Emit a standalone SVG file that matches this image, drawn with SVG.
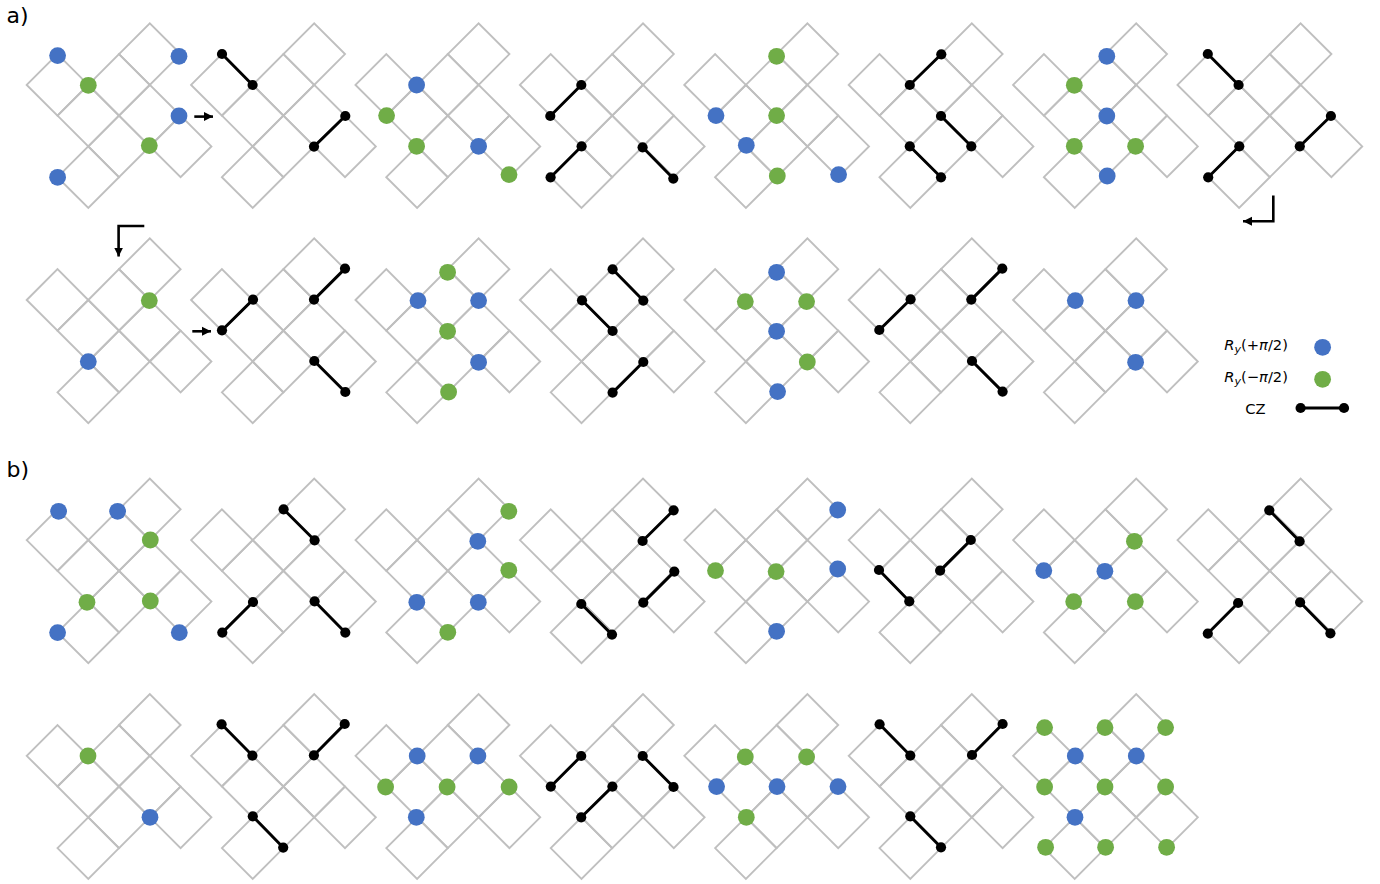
<svg xmlns="http://www.w3.org/2000/svg" width="1380" height="884" viewBox="0 0 1380 884">
<style>
text{font-family:"DejaVu Sans",sans-serif;fill:#000}
.h{font-size:22px}
.l{font-size:14.7px}
.m{font-style:italic}
.s{font-size:11px;font-style:italic}
.c{fill:none;stroke:#bfbfbf;stroke-width:1.9;stroke-linejoin:miter}
.b{fill:#4472c4}
.g{fill:#70ad47}
.q{fill:#000}
.z{stroke:#000;stroke-width:2.9;fill:none}
.a{stroke:#000;stroke-width:2.6;fill:none;marker-end:url(#ah)}
</style>
<defs>
<marker id="ah" markerUnits="userSpaceOnUse" markerWidth="10" markerHeight="10" refX="9" refY="5" orient="auto"><path d="M0 0.5L9 5L0 9.5Z" fill="#000"/></marker>
<g id="lat" class="c">
<path d="M92.3 30.8L123.1 0L153.9 30.8L123.1 61.6Z"/>
<path d="M0 61.6L30.8 30.8L61.6 61.6L30.8 92.3Z"/>
<path d="M61.6 61.6L92.3 30.8L123.1 61.6L92.3 92.3Z"/>
<path d="M30.8 92.3L61.6 61.6L92.3 92.3L61.6 123.1Z"/>
<path d="M92.3 92.3L123.1 61.6L153.9 92.3L123.1 123.1Z"/>
<path d="M61.6 123.1L92.3 92.3L123.1 123.1L92.3 153.9Z"/>
<path d="M123.1 123.1L153.9 92.3L184.7 123.1L153.9 153.9Z"/>
<path d="M30.8 153.9L61.6 123.1L92.3 153.9L61.6 184.7Z"/>
</g>
</defs>
<rect width="1380" height="884" fill="#fff"/>
<text class="h" x="6.5" y="22.5">a)</text>
<text class="h" x="6.5" y="476.5">b)</text>

<g id="lattices">
<use href="#lat" x="26.7" y="23.3"/><use href="#lat" x="191.1" y="23.3"/><use href="#lat" x="355.5" y="23.3"/><use href="#lat" x="519.9" y="23.3"/><use href="#lat" x="684.3" y="23.3"/><use href="#lat" x="848.7" y="23.3"/><use href="#lat" x="1013.1" y="23.3"/><use href="#lat" x="1177.5" y="23.3"/>
<use href="#lat" x="26.7" y="238.4"/><use href="#lat" x="191.1" y="238.4"/><use href="#lat" x="355.5" y="238.4"/><use href="#lat" x="519.9" y="238.4"/><use href="#lat" x="684.3" y="238.4"/><use href="#lat" x="848.7" y="238.4"/><use href="#lat" x="1013.1" y="238.4"/>
<use href="#lat" x="26.7" y="478.5"/><use href="#lat" x="191.1" y="478.5"/><use href="#lat" x="355.5" y="478.5"/><use href="#lat" x="519.9" y="478.5"/><use href="#lat" x="684.3" y="478.5"/><use href="#lat" x="848.7" y="478.5"/><use href="#lat" x="1013.1" y="478.5"/><use href="#lat" x="1177.5" y="478.5"/>
<use href="#lat" x="26.7" y="694.2"/><use href="#lat" x="191.1" y="694.2"/><use href="#lat" x="355.5" y="694.2"/><use href="#lat" x="519.9" y="694.2"/><use href="#lat" x="684.3" y="694.2"/><use href="#lat" x="848.7" y="694.2"/><use href="#lat" x="1013.1" y="694.2"/>
</g>

<g transform="translate(0.3 0.3)">
<g id="connectors">
<g id="arrows">
<path class="a" d="M194 116.3H212.7"/>
<path class="a" d="M192 331H210.7"/>
<path class="a" d="M1273 195.3V221H1242.7"/>
<path class="a" d="M144 225.7H118.3V256.3"/>
</g>
<g id="cz-lines">
<path class="z" d="M221.7 53.7L252.3 84.7M313.7 146.3L345 115.7"/>
<path class="z" d="M581 84.7L550 115.7M581.3 146L550.3 177M642.3 147L673 178.3"/>
<path class="z" d="M941 54L909.5 84.7M940.7 115.7L971 146M909.5 146L940.7 177"/>
<path class="z" d="M1207.5 53.7L1238.3 84.7M1330.6 115.7L1299.5 146M1239 146L1207.9 177"/>
<path class="z" d="M221.7 330L252.7 299.3M313.7 299.3L344.7 268.3M314 360.7L345 391.7"/>
<path class="z" d="M612.3 269L643 300.3M581.7 300L612.3 330.7M643 361.7L612.3 392.3"/>
<path class="z" d="M879 329.7L910.3 299M971 299.3L1002 268.3M971.7 360.7L1002.3 391.3"/>
<path class="z" d="M283.3 509L314.3 540M252.7 601.7L222 632.3M314.3 601L345 632.3"/>
<path class="z" d="M673.3 510L642.3 540.7M674 571.3L643 602.3M581 603.7L611.7 634.3"/>
<path class="z" d="M970.5 539.7L939.8 570.3M878.7 569.7L909 601"/>
<path class="z" d="M1269 510L1299.3 541M1237.8 602.7L1207.5 633.3M1299.8 602L1330.1 633"/>
<path class="z" d="M221.3 724L252.1 755.3M313.6 755L344.4 723.7M252.5 816L282.9 847.3"/>
<path class="z" d="M580.9 755.7L550.5 786.3M642.4 755.7L673.2 786.7M612.1 786.3L580.9 817"/>
<path class="z" d="M879.3 724L910 755.3M971.7 754.7L1002.3 723.7M910 816L940.7 847"/>
<path class="z" d="M1300.3 407.7H1343.7"/>
</g>
</g>

<g id="a1-1"><circle class="b" cx="57.3" cy="55.3" r="8.4"/><circle class="b" cx="178.7" cy="56" r="8.4"/><circle class="b" cx="178.7" cy="115.7" r="8.4"/><circle class="b" cx="57.3" cy="177" r="8.4"/><circle class="g" cx="88" cy="85" r="8.4"/><circle class="g" cx="149" cy="145.3" r="8.4"/></g>
<g id="a1-2"><circle class="q" cx="221.7" cy="53.7" r="5.1"/><circle class="q" cx="252.3" cy="84.7" r="5.1"/><circle class="q" cx="313.7" cy="146.3" r="5.1"/><circle class="q" cx="345" cy="115.7" r="5.1"/></g>
<g id="a1-3"><circle class="b" cx="416.3" cy="84.7" r="8.4"/><circle class="g" cx="386.3" cy="115.3" r="8.4"/><circle class="g" cx="416.3" cy="146" r="8.4"/><circle class="b" cx="478.3" cy="146" r="8.4"/><circle class="g" cx="508.7" cy="174.3" r="8.4"/></g>
<g id="a1-4"><circle class="q" cx="581" cy="84.7" r="5.1"/><circle class="q" cx="550" cy="115.7" r="5.1"/><circle class="q" cx="581.3" cy="146" r="5.1"/><circle class="q" cx="550.3" cy="177" r="5.1"/><circle class="q" cx="642.3" cy="147" r="5.1"/><circle class="q" cx="673" cy="178.3" r="5.1"/></g>
<g id="a1-5"><circle class="g" cx="776.3" cy="56" r="8.4"/><circle class="b" cx="715.7" cy="115.3" r="8.4"/><circle class="g" cx="776.3" cy="115.3" r="8.4"/><circle class="b" cx="746" cy="145" r="8.4"/><circle class="g" cx="777" cy="175.7" r="8.4"/><circle class="b" cx="838.3" cy="174.3" r="8.4"/></g>
<g id="a1-6"><circle class="q" cx="941" cy="54" r="5.1"/><circle class="q" cx="909.5" cy="84.7" r="5.1"/><circle class="q" cx="940.7" cy="115.7" r="5.1"/><circle class="q" cx="971" cy="146" r="5.1"/><circle class="q" cx="909.5" cy="146" r="5.1"/><circle class="q" cx="940.7" cy="177" r="5.1"/></g>
<g id="a1-7"><circle class="b" cx="1106.5" cy="56" r="8.4"/><circle class="g" cx="1074" cy="85" r="8.4"/><circle class="b" cx="1106.5" cy="115.7" r="8.4"/><circle class="g" cx="1074" cy="146" r="8.4"/><circle class="g" cx="1135.3" cy="146" r="8.4"/><circle class="b" cx="1106.9" cy="175.7" r="8.4"/></g>
<g id="a1-8"><circle class="q" cx="1207.5" cy="53.7" r="5.1"/><circle class="q" cx="1238.3" cy="84.7" r="5.1"/><circle class="q" cx="1330.6" cy="115.7" r="5.1"/><circle class="q" cx="1299.5" cy="146" r="5.1"/><circle class="q" cx="1239" cy="146" r="5.1"/><circle class="q" cx="1207.9" cy="177" r="5.1"/></g>

<g id="a2-1"><circle class="g" cx="149" cy="300.3" r="8.4"/><circle class="b" cx="88" cy="361.3" r="8.4"/></g>
<g id="a2-2"><circle class="q" cx="221.7" cy="330" r="5.1"/><circle class="q" cx="252.7" cy="299.3" r="5.1"/><circle class="q" cx="313.7" cy="299.3" r="5.1"/><circle class="q" cx="344.7" cy="268.3" r="5.1"/><circle class="q" cx="314" cy="360.7" r="5.1"/><circle class="q" cx="345" cy="391.7" r="5.1"/></g>
<g id="a2-3"><circle class="g" cx="447.3" cy="272" r="8.4"/><circle class="b" cx="417.7" cy="300.3" r="8.4"/><circle class="b" cx="478.3" cy="300.3" r="8.4"/><circle class="g" cx="447.3" cy="331" r="8.4"/><circle class="b" cx="478.3" cy="362" r="8.4"/><circle class="g" cx="448.3" cy="391.7" r="8.4"/></g>
<g id="a2-4"><circle class="q" cx="612.3" cy="269" r="5.1"/><circle class="q" cx="643" cy="300.3" r="5.1"/><circle class="q" cx="581.7" cy="300" r="5.1"/><circle class="q" cx="612.3" cy="330.7" r="5.1"/><circle class="q" cx="643" cy="361.7" r="5.1"/><circle class="q" cx="612.3" cy="392.3" r="5.1"/></g>
<g id="a2-5"><circle class="b" cx="776.3" cy="272" r="8.4"/><circle class="g" cx="745" cy="301.3" r="8.4"/><circle class="g" cx="806.3" cy="301.3" r="8.4"/><circle class="b" cx="776.3" cy="331" r="8.4"/><circle class="g" cx="807" cy="361.7" r="8.4"/><circle class="b" cx="777.3" cy="391.3" r="8.4"/></g>
<g id="a2-6"><circle class="q" cx="879" cy="329.7" r="5.1"/><circle class="q" cx="910.3" cy="299" r="5.1"/><circle class="q" cx="971" cy="299.3" r="5.1"/><circle class="q" cx="1002" cy="268.3" r="5.1"/><circle class="q" cx="971.7" cy="360.7" r="5.1"/><circle class="q" cx="1002.3" cy="391.3" r="5.1"/></g>
<g id="a2-7"><circle class="b" cx="1075" cy="300.3" r="8.4"/><circle class="b" cx="1135.7" cy="300.3" r="8.4"/><circle class="b" cx="1135.3" cy="362" r="8.4"/></g>

<g id="b1-1"><circle class="b" cx="58.3" cy="511" r="8.4"/><circle class="b" cx="117.3" cy="511" r="8.4"/><circle class="g" cx="150" cy="539.7" r="8.4"/><circle class="g" cx="86.7" cy="602" r="8.4"/><circle class="g" cx="150" cy="600.7" r="8.4"/><circle class="b" cx="57.3" cy="632.3" r="8.4"/><circle class="b" cx="179" cy="632.3" r="8.4"/></g>
<g id="b1-2"><circle class="q" cx="283.3" cy="509" r="5.1"/><circle class="q" cx="314.3" cy="540" r="5.1"/><circle class="q" cx="252.7" cy="601.7" r="5.1"/><circle class="q" cx="222" cy="632.3" r="5.1"/><circle class="q" cx="314.3" cy="601" r="5.1"/><circle class="q" cx="345" cy="632.3" r="5.1"/></g>
<g id="b1-3"><circle class="g" cx="508.5" cy="511" r="8.4"/><circle class="b" cx="477.5" cy="541" r="8.4"/><circle class="g" cx="508.5" cy="570" r="8.4"/><circle class="b" cx="416.5" cy="602" r="8.4"/><circle class="b" cx="478" cy="602" r="8.4"/><circle class="g" cx="447.5" cy="632" r="8.4"/></g>
<g id="b1-4"><circle class="q" cx="673.3" cy="510" r="5.1"/><circle class="q" cx="642.3" cy="540.7" r="5.1"/><circle class="q" cx="674" cy="571.3" r="5.1"/><circle class="q" cx="643" cy="602.3" r="5.1"/><circle class="q" cx="581" cy="603.7" r="5.1"/><circle class="q" cx="611.7" cy="634.3" r="5.1"/></g>
<g id="b1-5"><circle class="b" cx="837.4" cy="509.7" r="8.4"/><circle class="g" cx="715.2" cy="570.3" r="8.4"/><circle class="g" cx="775.8" cy="571.3" r="8.4"/><circle class="b" cx="837.4" cy="568.7" r="8.4"/><circle class="b" cx="776.3" cy="631" r="8.4"/></g>
<g id="b1-6"><circle class="q" cx="970.5" cy="539.7" r="5.1"/><circle class="q" cx="939.8" cy="570.3" r="5.1"/><circle class="q" cx="878.7" cy="569.7" r="5.1"/><circle class="q" cx="909" cy="601" r="5.1"/></g>
<g id="b1-7"><circle class="g" cx="1134.1" cy="541" r="8.4"/><circle class="b" cx="1043.5" cy="570.3" r="8.4"/><circle class="b" cx="1104.6" cy="571" r="8.4"/><circle class="g" cx="1073.4" cy="601.3" r="8.4"/><circle class="g" cx="1135" cy="601.3" r="8.4"/></g>
<g id="b1-8"><circle class="q" cx="1269" cy="510" r="5.1"/><circle class="q" cx="1299.3" cy="541" r="5.1"/><circle class="q" cx="1237.8" cy="602.7" r="5.1"/><circle class="q" cx="1207.5" cy="633.3" r="5.1"/><circle class="q" cx="1299.8" cy="602" r="5.1"/><circle class="q" cx="1330.1" cy="633" r="5.1"/></g>

<g id="b2-1"><circle class="g" cx="87.7" cy="755.7" r="8.4"/><circle class="b" cx="149.7" cy="817" r="8.4"/></g>
<g id="b2-2"><circle class="q" cx="221.3" cy="724" r="5.1"/><circle class="q" cx="252.1" cy="755.3" r="5.1"/><circle class="q" cx="313.6" cy="755" r="5.1"/><circle class="q" cx="344.4" cy="723.7" r="5.1"/><circle class="q" cx="252.5" cy="816" r="5.1"/><circle class="q" cx="282.9" cy="847.3" r="5.1"/></g>
<g id="b2-3"><circle class="b" cx="416.9" cy="755.7" r="8.4"/><circle class="b" cx="477.6" cy="755.7" r="8.4"/><circle class="g" cx="385.3" cy="786.7" r="8.4"/><circle class="g" cx="446.8" cy="786.7" r="8.4"/><circle class="g" cx="508.8" cy="786.7" r="8.4"/><circle class="b" cx="416" cy="817" r="8.4"/></g>
<g id="b2-4"><circle class="q" cx="580.9" cy="755.7" r="5.1"/><circle class="q" cx="550.5" cy="786.3" r="5.1"/><circle class="q" cx="642.4" cy="755.7" r="5.1"/><circle class="q" cx="673.2" cy="786.7" r="5.1"/><circle class="q" cx="612.1" cy="786.3" r="5.1"/><circle class="q" cx="580.9" cy="817" r="5.1"/></g>
<g id="b2-5"><circle class="g" cx="745" cy="756.7" r="8.4"/><circle class="g" cx="806.3" cy="756.7" r="8.4"/><circle class="b" cx="716.3" cy="786.3" r="8.4"/><circle class="b" cx="776.7" cy="786.3" r="8.4"/><circle class="b" cx="837.7" cy="786.3" r="8.4"/><circle class="g" cx="746" cy="817" r="8.4"/></g>
<g id="b2-6"><circle class="q" cx="879.3" cy="724" r="5.1"/><circle class="q" cx="910" cy="755.3" r="5.1"/><circle class="q" cx="971.7" cy="754.7" r="5.1"/><circle class="q" cx="1002.3" cy="723.7" r="5.1"/><circle class="q" cx="910" cy="816" r="5.1"/><circle class="q" cx="940.7" cy="847" r="5.1"/></g>
<g id="b2-7"><circle class="g" cx="1044.3" cy="727.3" r="8.4"/><circle class="g" cx="1104.7" cy="727.3" r="8.4"/><circle class="g" cx="1165.3" cy="727.3" r="8.4"/><circle class="b" cx="1075" cy="755.7" r="8.4"/><circle class="b" cx="1136" cy="755.7" r="8.4"/><circle class="g" cx="1044.3" cy="786.7" r="8.4"/><circle class="g" cx="1104.7" cy="786.7" r="8.4"/><circle class="g" cx="1165.3" cy="786.7" r="8.4"/><circle class="b" cx="1074.7" cy="817" r="8.4"/><circle class="g" cx="1045.3" cy="847" r="8.4"/><circle class="g" cx="1105.3" cy="847" r="8.4"/><circle class="g" cx="1166.3" cy="847" r="8.4"/></g>

<g id="legend">
<text class="l" x="1224" y="350"><tspan class="m">R</tspan><tspan class="s" dy="3">y</tspan><tspan dy="-3">(+</tspan><tspan class="m">π</tspan>/2)</text>
<text class="l" x="1224" y="382"><tspan class="m">R</tspan><tspan class="s" dy="3">y</tspan><tspan dy="-3">(−</tspan><tspan class="m">π</tspan>/2)</text>
<text class="l" x="1245" y="414">CZ</text>
<circle class="b" cx="1322.3" cy="347" r="8.4"/>
<circle class="g" cx="1322.3" cy="379" r="8.4"/>
<circle class="q" cx="1300.3" cy="407.7" r="5.1"/>
<circle class="q" cx="1343.7" cy="407.7" r="5.1"/>
</g>
</g>
</svg>
